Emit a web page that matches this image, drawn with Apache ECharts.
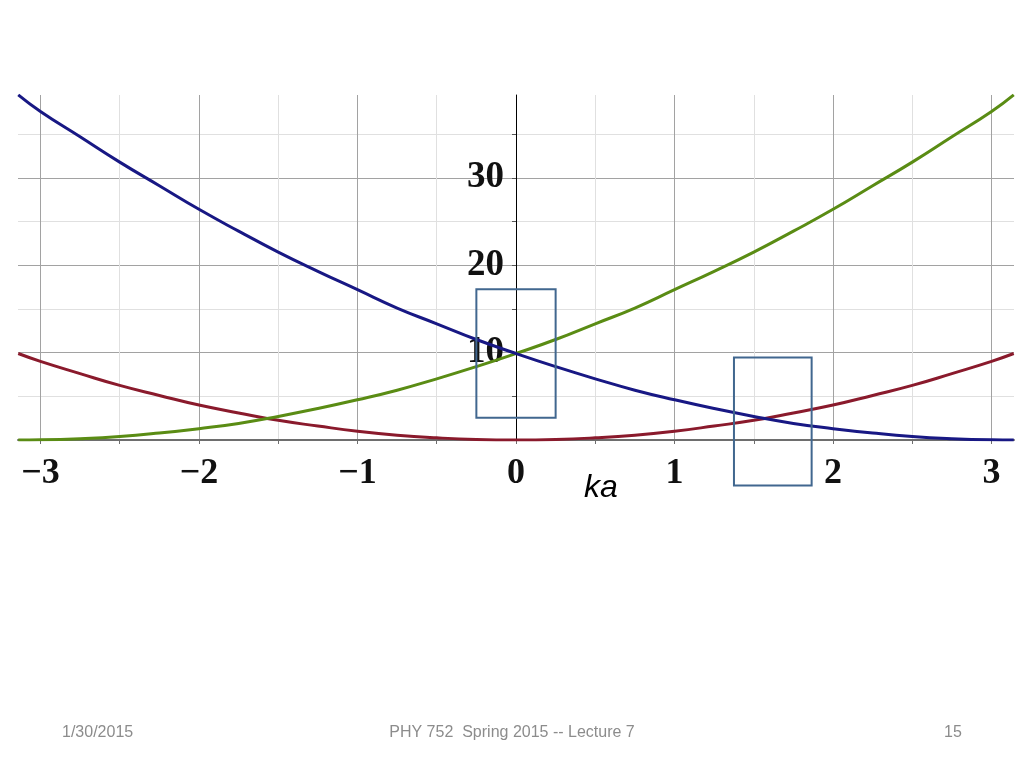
<!DOCTYPE html>
<html>
<head>
<meta charset="utf-8">
<script src="https://cdn.jsdelivr.net/npm/echarts@6/dist/echarts.min.js"></script>
<style>
  html, body { margin: 0; padding: 0; background: #fff; }
  #main { width: 1024px; height: 768px; }
</style>
</head>
<body>
<div id="main"></div>
<script>
// 横坐标 ka
var kValues = [-3.14, -3, -2.75, -2.5, -2.25, -2, -1.75, -1.5, -1.25, -1, -0.75, -0.5, -0.25, 0,
  0.25, 0.5, 0.75, 1, 1.25, 1.5, 1.75, 2, 2.25, 2.5, 2.75, 3, 3.14];
// 三条能带
var blueBand = [39.5, 37.6, 34.7, 31.8, 29.1, 26.4, 23.9, 21.5, 19.3, 17.2, 15.1, 13.3, 11.5, 9.9,
  8.4, 7.0, 5.7, 4.6, 3.6, 2.7, 1.9, 1.3, 0.8, 0.4, 0.15, 0.02, 0];
var redBand = [9.9, 9.0, 7.6, 6.25, 5.1, 4.0, 3.1, 2.25, 1.6, 1.0, 0.55, 0.25, 0.06, 0,
  0.06, 0.25, 0.55, 1.0, 1.6, 2.25, 3.1, 4.0, 5.1, 6.25, 7.6, 9.0, 9.9];
var greenBand = [0, 0.02, 0.15, 0.4, 0.8, 1.3, 1.9, 2.7, 3.6, 4.6, 5.7, 7.0, 8.4, 9.9,
  11.5, 13.3, 15.1, 17.2, 19.3, 21.5, 23.9, 26.4, 29.1, 31.8, 34.7, 37.6, 39.5];
// 刻度
var xTicks = [-3, -2.5, -2, -1.5, -1, -0.5, 0, 0.5, 1, 1.5, 2, 2.5, 3];
var xLabels = [-3, -2, -1, 0, 1, 2, 3];
// 两个方框 [x0, x1, y0, y1]
var boxes = [[-0.25, 0.25, 2.55, 17.25], [1.375, 1.865, -5.2, 9.45]];

function pairs(ys) {
  return kValues.map(function(k, i) { return [k, ys[i]]; });
}

var myChart = echarts.init(document.getElementById('main'));
var serif = "'Liberation Serif', 'DejaVu Serif', serif";
var sans = "'Liberation Sans', Arial, sans-serif";
var gridLeft = 18;

var option = {
  animation: false,
  backgroundColor: '#fff',
  grid: { left: gridLeft, right: 10, top: 95, bottom: 328, outerBoundsMode: 'none', containLabel: false },
  xAxis: {
    type: 'value',
    min: -3.1416,
    max: 3.1416,
    axisLine: { lineStyle: { color: '#6e6e6e', width: 2 } },
    axisTick: { show: true, length: 4, customValues: xTicks, lineStyle: { color: '#6e6e6e' } },
    axisLabel: {
      customValues: xLabels,
      margin: 16,
      color: '#111',
      fontFamily: serif,
      fontWeight: 'bold',
      fontSize: 36,
      formatter: function(v) { return v < 0 ? '\u2212' + (-v) : String(v); }
    },
    splitLine: { show: true, lineStyle: { color: ['#a2a2a2', '#e0e0e0'], width: 1 } }
  },
  yAxis: {
    type: 'value',
    min: 0,
    max: 39.48,
    interval: 5,
    position: 'left',
    axisLine: { onZero: false, lineStyle: { color: '#000', width: 1 } },
    axisTick: { show: true, length: 4, lineStyle: { color: '#555' } },
    axisLabel: {
      margin: 12,
      color: '#111',
      fontFamily: serif,
      fontWeight: 'bold',
      fontSize: 37,
      padding: [8, 0, 0, 0],
      showMaxLabel: false,
      formatter: function(v) { return (v > 0 && v % 10 === 0) ? String(v) : ''; }
    },
    splitLine: { show: true, showMaxLine: false, lineStyle: { color: ['#a2a2a2', '#e0e0e0'], width: 1 } }
  },
  series: [
    { type: 'line', data: pairs(redBand), smooth: true, showSymbol: false,
      lineStyle: { color: '#8a1a2c', width: 3 } },
    { type: 'line', data: pairs(greenBand), smooth: true, showSymbol: false,
      lineStyle: { color: '#5a8c14', width: 3 } },
    { type: 'line', data: pairs(blueBand), smooth: true, showSymbol: false,
      lineStyle: { color: '#181884', width: 3 } },
    {
      type: 'custom',
      clip: false,
      data: boxes,
      encode: { x: [0, 1], y: [2, 3] },
      renderItem: function(params, api) {
        var p0 = api.coord([api.value(0), api.value(3)]);
        var p1 = api.coord([api.value(1), api.value(2)]);
        return {
          type: 'rect',
          shape: { x: p0[0], y: p0[1], width: p1[0] - p0[0], height: p1[1] - p0[1] },
          style: { fill: 'none', stroke: '#41678f', lineWidth: 2 }
        };
      },
      z: 5
    }
  ],
  graphic: [
    { type: 'text', left: 584, top: 472,
      style: { text: 'ka', font: 'italic 32px ' + sans, fill: '#000' } },
    { type: 'text', left: 62, top: 725,
      style: { text: '1/30/2015', font: '16px ' + sans, fill: '#8c8c8c' } },
    { type: 'text', left: 'center', top: 725,
      style: { text: 'PHY 752  Spring 2015 -- Lecture 7', font: '16px ' + sans, fill: '#8c8c8c' } },
    { type: 'text', left: 944, top: 725,
      style: { text: '15', font: '16px ' + sans, fill: '#8c8c8c' } }
  ]
};

myChart.setOption(option);
// 把纵轴移到 ka = 0 处
var zeroX = myChart.convertToPixel({ xAxisIndex: 0 }, 0);
myChart.setOption({ yAxis: { offset: gridLeft - zeroX } });
</script>
</body>
</html>
